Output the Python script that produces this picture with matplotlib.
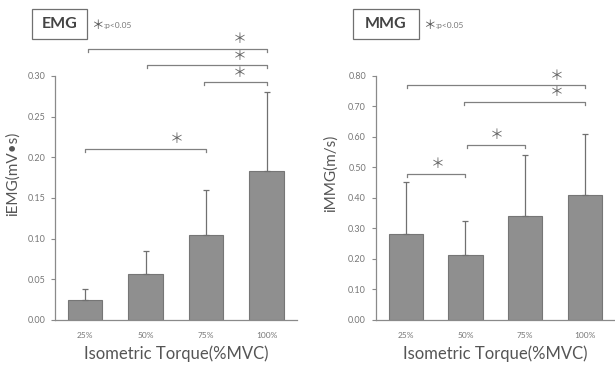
import matplotlib.pyplot as plt
from matplotlib.patches import Rectangle

# ---------------- data ----------------
categories = ['25%', '50%', '75%', '100%']

emg_mean = [0.024, 0.057, 0.105, 0.183]
emg_sd = [0.014, 0.028, 0.055, 0.097]
emg_ticks = [0.00, 0.05, 0.10, 0.15, 0.20, 0.25, 0.30]
# significance brackets: start, end, height, star position
emg_br_x1 = [0.05, 1.02, 1.97, 0.0]
emg_br_x2 = [3.0, 3.0, 3.0, 2.0]
emg_br_y = [0.333, 0.313, 0.292, 0.210]
emg_star_x = [2.55, 2.55, 2.55, 1.52]

mmg_mean = [0.283, 0.212, 0.341, 0.411]
mmg_sd = [0.171, 0.111, 0.199, 0.199]
mmg_ticks = [0.00, 0.10, 0.20, 0.30, 0.40, 0.50, 0.60, 0.70, 0.80]
mmg_br_x1 = [0.03, 0.98, 1.03, 0.03]
mmg_br_x2 = [3.0, 3.0, 2.0, 1.0]
mmg_br_y = [0.769, 0.715, 0.575, 0.480]
mmg_star_x = [2.53, 2.53, 1.53, 0.54]

BAR = '#8f8f8f'
EDGE = '#767676'
AXC = '#8a8a8a'
TXT = '#555555'

plt.rcParams['font.family'] = ['Lato', 'DejaVu Sans']

fig = plt.figure(figsize=(6.15, 3.66), dpi=100)


def panel(rect, mean, sd, ticks, br_x1, br_x2, br_y, star_x, ylabel, ylabel_x):
    ax = fig.add_axes(rect)
    x = list(range(len(categories)))
    ax.bar(x, mean, width=0.57, color=BAR, edgecolor=EDGE, linewidth=0.8, zorder=2)
    ax.errorbar(x, mean, yerr=[[0] * len(sd), sd], fmt='none', ecolor='#707070',
                elinewidth=0.9, capsize=2, capthick=0.9, zorder=3)
    ax.set_xlim(-0.5, 3.5)
    ax.set_ylim(0, ticks[-1])
    ax.set_yticks(ticks)
    ax.set_yticklabels(['%.2f' % t for t in ticks])
    ax.set_xticks(x)
    ax.set_xticklabels(categories)
    for s in ['top', 'right']:
        ax.spines[s].set_visible(False)
    for s in ['left', 'bottom']:
        ax.spines[s].set_color(AXC)
        ax.spines[s].set_linewidth(0.9)
    ax.tick_params(axis='y', length=3, width=0.8, color=AXC, labelsize=6.5,
                   labelcolor='#777777', pad=4)
    ax.tick_params(axis='x', length=0, labelsize=6, labelcolor='#777777', pad=9)
    ax.set_xlabel('Isometric Torque(%MVC)', fontsize=12, color=TXT)
    ax.xaxis.set_label_coords(0.5, -0.105)
    ax.set_ylabel(ylabel, fontsize=11, color=TXT)
    ax.yaxis.set_label_coords(ylabel_x, 0.6)

    tick = ticks[-1] * 0.012
    for x1, x2, y, sx in zip(br_x1, br_x2, br_y, star_x):
        ax.plot([x1, x1, x2, x2], [y - tick, y, y, y - tick], color='#808080',
                lw=0.9, clip_on=False, zorder=4)
        ax.annotate('＊', (sx, y), xytext=(0, 7), textcoords='offset points',
                    ha='center', va='center', fontsize=10, color='#666666',
                    family=['Noto Sans CJK JP', 'DejaVu Sans'],
                    annotation_clip=False)
    return ax


panel([0.0894, 0.1257, 0.3935, 0.6667], emg_mean, emg_sd, emg_ticks,
      emg_br_x1, emg_br_x2, emg_br_y, emg_star_x, 'iEMG(mV•s)', -0.145)
panel([0.611, 0.1257, 0.389, 0.6667], mmg_mean, mmg_sd, mmg_ticks,
      mmg_br_x1, mmg_br_x2, mmg_br_y, mmg_star_x, 'iMMG(m/s)', -0.158)

# title boxes with p-value note
for x0, w, name in [(0.052, 0.0894, 'EMG'), (0.5735, 0.1078, 'MMG')]:
    fig.add_artist(Rectangle((x0, 0.8934), w, 0.082, transform=fig.transFigure,
                             fill=False, edgecolor='#707070', linewidth=0.9))
    fig.text(x0 + w / 2, 0.8934 + 0.041, name, ha='center', va='center',
             fontsize=11.5, fontweight='bold', color='#444444')
    fig.text(x0 + w + 0.016, 0.929, '＊', ha='center', va='center', fontsize=9,
             color='#555555', family=['Noto Sans CJK JP', 'DejaVu Sans'])
    fig.text(x0 + w + 0.027, 0.929, ':p<0.05', ha='left', va='center',
             fontsize=6, color='#777777')

fig.savefig('out.png', dpi=100)
